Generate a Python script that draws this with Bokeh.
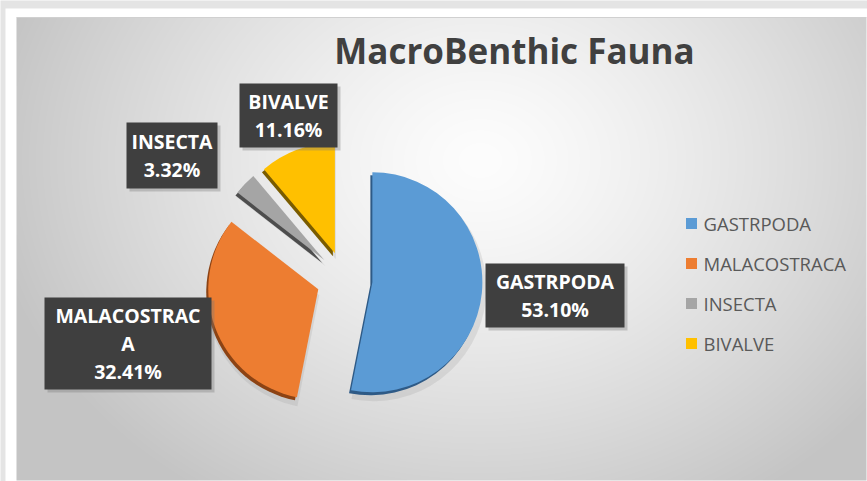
import math
import textwrap
import numpy as np
from bokeh.plotting import figure
from bokeh.models import Range1d, ColumnDataSource
from bokeh.core.properties import value
from bokeh.embed import file_html
from bokeh.resources import INLINE

# ---------------- data ----------------
categories = ["GASTRPODA", "MALACOSTRACA", "INSECTA", "BIVALVE"]
percent = [53.10, 32.41, 3.32, 11.16]
colors = ["#5b9bd5", "#ed7d31", "#a5a5a5", "#ffc000"]
dark_colors = ["#2e5a86", "#8c4314", "#4d4d4d", "#7a5c00"]
title_text = "MacroBenthic Fauna"

# ---------------- layout (screen px of the page) ----------------
W, H = 867, 481
PAGE_H = H

def Y(sy):
    return PAGE_H - sy   # page y (down) -> data y (up)

pie_cx, pie_cy = 344, 279
pie_r = 110
explode = 28

# label boxes: centre (page px) and size
label_boxes = [(554.5, 295, 139, 64), (127.5, 343, 167, 92),
               (171.5, 155, 91, 66), (288, 115, 98, 64)]

p = figure(width=W, height=H, output_backend="svg", toolbar_location=None,
           x_range=Range1d(0, W), y_range=Range1d(0, H), min_border=0)
p.axis.visible = False
p.grid.visible = False
p.outline_line_color = None
p.background_fill_color = "#e4e4e4"
p.border_fill_color = "#e4e4e4"

# white frame
p.quad(left=[5], right=[W], bottom=[Y(H)], top=[Y(8)], fill_color="white", line_color=None)

# ---------- background radial gradient (chart area) ----------
x0, x1 = 16, 866
y0, y1 = 17, 480
gw, gh = x1 - x0, y1 - y0
sx = np.arange(gw) + x0 + 0.5
sy = np.arange(gh) + y0 + 0.5
SX, SY = np.meshgrid(sx, sy)
d = np.hypot((SX - 480) / 520.0, (SY - 160) / 420.0)
v = np.clip(253 - 60 * d ** 1.3, 196, 253).astype(np.uint32)
img = (255 << 24) | (v << 16) | (v << 8) | v
img = img[::-1, :].copy()   # row 0 = bottom
p.image_rgba(image=[img.view(np.uint32)], x=x0, y=Y(y1), dw=gw, dh=gh)
p.segment(x0=[x0], y0=[Y(y0)], x1=[x1], y1=[Y(y0)], line_color="#d0d0d0", line_width=1)

# ---------------- pie ----------------
tot = sum(percent)
cum = 0.0
xs, ys, starts, ends = [], [], [], []
for pc in percent:
    f = pc / tot
    a0 = math.pi / 2 - 2 * math.pi * cum
    a1 = math.pi / 2 - 2 * math.pi * (cum + f)
    am = math.pi / 2 - 2 * math.pi * (cum + f / 2)
    xs.append(pie_cx + explode * math.cos(am))
    ys.append(Y(pie_cy) + explode * math.sin(am))
    starts.append(a0)
    ends.append(a1)
    cum += f

src = ColumnDataSource(dict(x=xs, y=ys, s=starts, e=ends, c=colors, dc=dark_colors,
                            xs_sh=[x - 2 for x in xs], ys_sh=[y - 3 for y in ys],
                            xs_soft=[x + 1 for x in xs], ys_soft=[y - 6 for y in ys]))
# soft shadow
p.wedge(x="xs_soft", y="ys_soft", radius=pie_r + 3, start_angle="s", end_angle="e",
        direction="clock", fill_color="#888888", fill_alpha=0.18, line_color=None, source=src)
# dark 3D edge
p.wedge(x="xs_sh", y="ys_sh", radius=pie_r, start_angle="s", end_angle="e",
        direction="clock", fill_color="dc", line_color=None, source=src)
p.wedge(x="x", y="y", radius=pie_r, start_angle="s", end_angle="e",
        direction="clock", fill_color="c", line_color=None, source=src)

# ---------------- data labels ----------------
lab_txt = []
for name, pc in zip(categories, percent):
    lines = textwrap.wrap(name, 11, break_long_words=True)
    lab_txt.append("\n".join(lines + ["%.2f%%" % pc]))
bx = [b[0] for b in label_boxes]
by = [Y(b[1]) for b in label_boxes]
bw = [b[2] for b in label_boxes]
bh = [b[3] for b in label_boxes]
p.rect(x=[x + 3 for x in bx], y=[y - 3 for y in by], width=bw, height=bh,
       fill_color="#777777", fill_alpha=0.35, line_color=None)
p.rect(x=bx, y=by, width=bw, height=bh, fill_color="#3f3f3f", line_color=None)
p.text(x=bx, y=by, text=lab_txt, text_color="white", text_font=value("Open Sans"),
       text_font_style="bold", text_font_size="19.5px", text_align="center",
       text_baseline="middle", text_line_height=1.05)

# ---------------- title ----------------
p.text(x=[514], y=[Y(50)], text=[title_text], text_color="#404040",
       text_font=value("Open Sans"), text_font_style="bold", text_font_size="35px",
       text_align="center", text_baseline="middle")

# ---------------- legend ----------------
leg_y = [Y(223), Y(263), Y(303), Y(343)]
p.rect(x=[691] * 4, y=leg_y, width=11, height=11, fill_color=colors, line_color=None)
p.text(x=[703] * 4, y=leg_y, text=categories, text_color="#595959",
       text_font=value("Open Sans"), text_font_size="18.5px",
       text_align="left", text_baseline="middle")

open("out.html", "w").write(file_html(p, INLINE))
